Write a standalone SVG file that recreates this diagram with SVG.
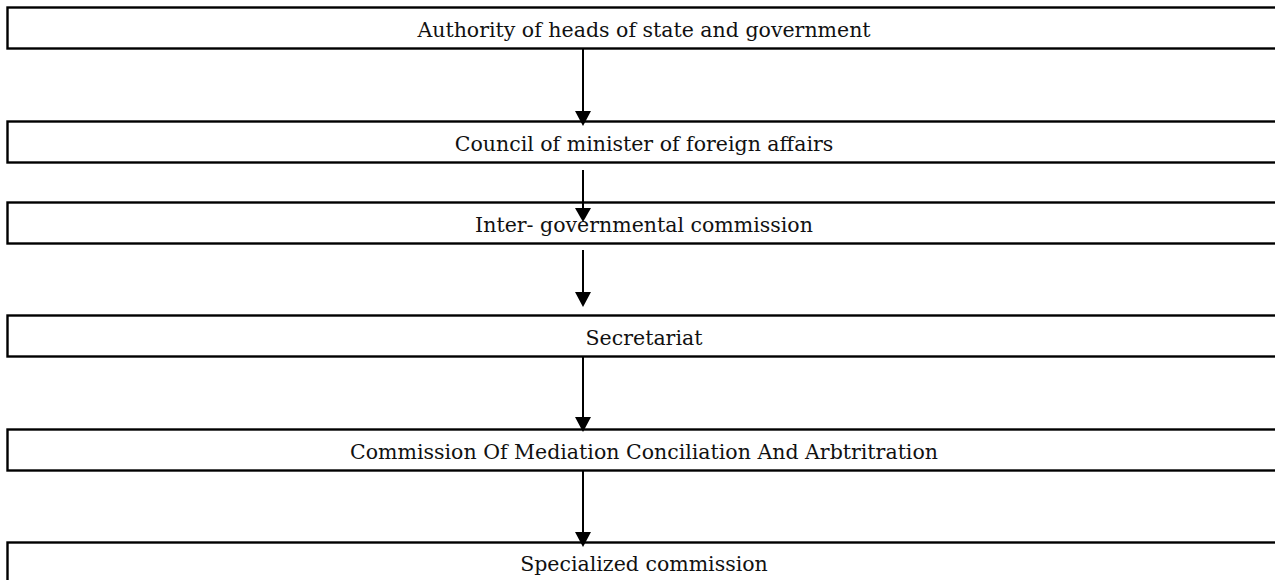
<svg xmlns="http://www.w3.org/2000/svg" width="1275" height="580" viewBox="0 0 1275 580">
<style>
.box{fill:#fff;stroke:#000;stroke-width:2.4}
.lbl{font-family:"DejaVu Serif","Liberation Serif",serif;font-size:20.5px;fill:#111;text-anchor:middle}
.con{stroke:#000;stroke-width:2;fill:none}
.head{fill:#000}
</style>
<g id="n1"><rect class="box" x="7.5" y="7.5" width="1290" height="41"/><text class="lbl" x="644" y="37">Authority of heads of state and government</text></g>
<g id="n2"><rect class="box" x="7.5" y="121.5" width="1290" height="41"/><text class="lbl" x="644" y="151">Council of minister of foreign affairs</text></g>
<g id="n3"><rect class="box" x="7.5" y="202.5" width="1290" height="41"/><text class="lbl" x="644" y="232">Inter- governmental commission</text></g>
<g id="n4"><rect class="box" x="7.5" y="315.5" width="1290" height="41"/><text class="lbl" x="644" y="345">Secretariat</text></g>
<g id="n5"><rect class="box" x="7.5" y="429.5" width="1290" height="41"/><text class="lbl" x="644" y="459">Commission Of Mediation Conciliation And Arbtritration</text></g>
<g id="n6"><rect class="box" x="7.5" y="542.5" width="1290" height="41"/><text class="lbl" x="644" y="571">Specialized commission</text></g>
<g id="connectors">
<line class="con" x1="583" y1="49" x2="583" y2="112"/><polygon class="head" points="575,111 591,111 583,126"/>
<line class="con" x1="583" y1="170" x2="583" y2="209"/><polygon class="head" points="575,208 591,208 583,222"/>
<line class="con" x1="583" y1="250" x2="583" y2="293"/><polygon class="head" points="575,292 591,292 583,307"/>
<line class="con" x1="583" y1="357" x2="583" y2="418"/><polygon class="head" points="575,417 591,417 583,432"/>
<line class="con" x1="583" y1="471" x2="583" y2="533"/><polygon class="head" points="575,532 591,532 583,547"/>
</g>
</svg>
